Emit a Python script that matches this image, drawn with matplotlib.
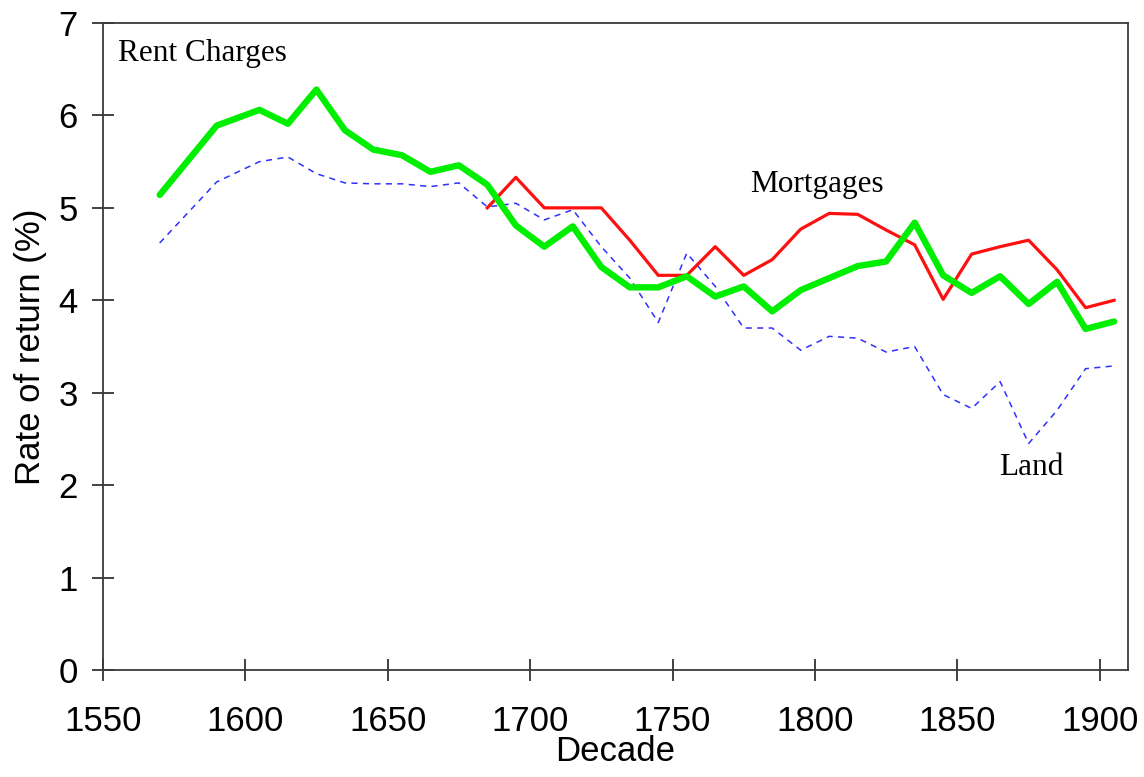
import matplotlib
matplotlib.use("Agg")
import matplotlib.pyplot as plt

# Decades (mid-points) and series
decades = [1570, 1590, 1605, 1615, 1625, 1635, 1645, 1655, 1665, 1675,
           1685, 1695, 1705, 1715, 1725, 1735, 1745, 1755, 1765, 1775,
           1785, 1795, 1805, 1815, 1825, 1835, 1845, 1855, 1865, 1875,
           1885, 1895, 1905]
rent_charges = [5.14, 5.89, 6.06, 5.91, 6.28, 5.84, 5.63, 5.57, 5.39, 5.46,
                5.25, 4.81, 4.58, 4.80, 4.36, 4.14, 4.14, 4.26, 4.04, 4.15,
                3.88, 4.11, 4.24, 4.37, 4.42, 4.84, 4.27, 4.08, 4.26, 3.96,
                4.20, 3.69, 3.77]
land = [4.62, 5.28, 5.50, 5.55, 5.37, 5.27, 5.26, 5.26, 5.23, 5.27,
        5.01, 5.05, 4.87, 4.98, 4.58, 4.24, 3.76, 4.51, 4.15, 3.70,
        3.70, 3.46, 3.61, 3.59, 3.44, 3.50, 2.98, 2.83, 3.12, 2.45,
        2.81, 3.26, 3.29]
mort_decades = [1685, 1695, 1705, 1715, 1725, 1735, 1745, 1755, 1765, 1775,
                1785, 1795, 1805, 1815, 1825, 1835, 1845, 1855, 1865, 1875,
                1885, 1895, 1905]
mortgages = [5.00, 5.33, 5.00, 5.00, 5.00, 4.65, 4.27, 4.27, 4.58, 4.27,
             4.44, 4.77, 4.94, 4.93, 4.76, 4.60, 4.01, 4.50, 4.58, 4.65,
             4.33, 3.92, 4.00]

x_ticks = [1550, 1600, 1650, 1700, 1750, 1800, 1850, 1900]
y_ticks = [0, 1, 2, 3, 4, 5, 6, 7]

fig = plt.figure(figsize=(11.44, 7.77), dpi=100)
ax = fig.add_axes([0.0898, 0.1377, 0.8965, 0.8327])

ax.plot(decades, land, color="#2f2fff", lw=1.1, linestyle=(0, (4, 3.5)), zorder=2)
ax.plot(mort_decades, mortgages, color="#ff1010", lw=2.3, zorder=3)
ax.plot(decades, rent_charges, color="#00ee00", lw=4.6, zorder=4,
        solid_joinstyle="round", solid_capstyle="round")

ax.set_xlim(1550, 1910)
ax.set_ylim(0, 7)
ax.set_xticks(x_ticks)
ax.set_yticks(y_ticks)

for s in ax.spines.values():
    s.set_color("#3a3a3a")
    s.set_linewidth(1.3)

ax.tick_params(axis="both", direction="inout", length=16, width=1.2, color="#222222",
               labelsize=25)
ax.tick_params(axis="x", pad=17)
ax.tick_params(axis="y", pad=10)
for lab in ax.get_xticklabels() + ax.get_yticklabels():
    lab.set_family("Liberation Sans")

ax.set_xlabel("Decade", fontsize=25, family="Liberation Sans", labelpad=-2)
ax.set_ylabel("Rate of return (%)", fontsize=25, family="Liberation Sans", labelpad=8)

ax.text(1555.4, 6.67, "Rent Charges", fontsize=22.5, family="Liberation Serif",
        va="center", ha="left")
ax.text(1777.2, 5.25, "Mortgages", fontsize=22.5, family="Liberation Serif",
        va="center", ha="left")
ax.text(1864.8, 2.19, "Land", fontsize=22.5, family="Liberation Serif",
        va="center", ha="left")

fig.savefig("out.png", dpi=100)
